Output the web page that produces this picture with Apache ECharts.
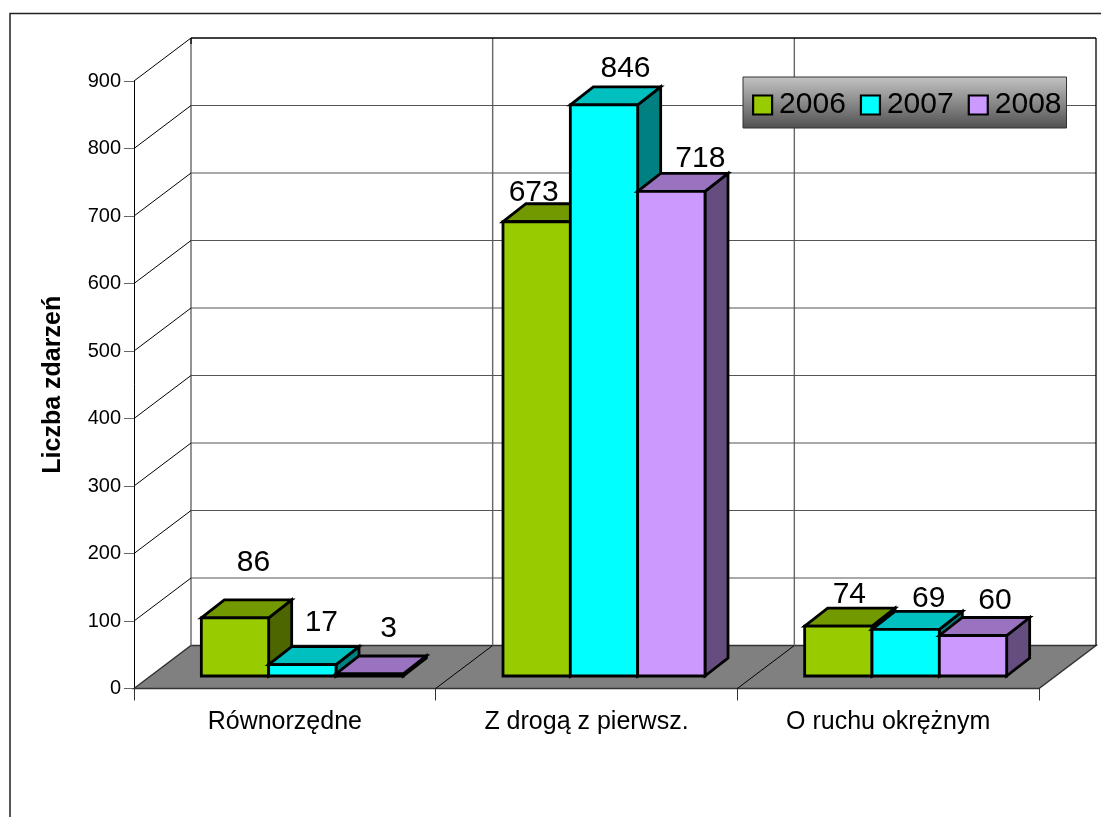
<!DOCTYPE html>
<html><head><meta charset="utf-8">
<style>html,body{margin:0;padding:0;background:#fff}#c{width:1101px;height:817px}</style>
<script src="https://cdn.jsdelivr.net/npm/echarts@6/dist/echarts.min.js"></script>
</head><body><div id="c"></div>
<script>
const categories = ['Równorzędne', 'Z drogą z pierwsz.', 'O ruchu okrężnym'];
const seriesNames = ['2006', '2007', '2008'];
const values2006 = [86, 673, 74];
const values2007 = [17, 846, 69];
const values2008 = [3, 718, 60];
const valueTicks = [0, 100, 200, 300, 400, 500, 600, 700, 800, 900];

// styling and 3D projection constants
const FONT = '"Liberation Sans", Arial, sans-serif';
const DEPTH = [57, -43];            // full floor depth
const BAR_DEPTH = [23, -18];        // depth of a bar
const BAR_INSET = [17.5, -12.5];    // offset of bars' front from the floor's front edge
const BAR_FRAC = 0.2232;            // bar width as fraction of a category band
const palettes = [
  {front: '#99CC00', top: '#739900', side: '#4D6600'},
  {front: '#00FFFF', top: '#00BFBF', side: '#008080'},
  {front: '#CC99FF', top: '#9973BF', side: '#664D80'}
];
// manual placement of each value label relative to the top of the bar's front face [series][category]
const labelNudges = [
  [[18.5, -55], [-3, -29], [11, -31]],
  [[19, -42], [21.5, -36], [23, -31]],
  [[19, -45], [29, -33], [22, -35]]
];

function renderWall(params, api) {
  const v = api.value(0);
  const band = api.size([1, 0])[0];
  const n = categories.length;
  const p0 = api.coord([0, v]);
  const x0 = p0[0] - band / 2, y = p0[1];
  const bx = x0 + DEPTH[0], by = y + DEPTH[1];
  const isTop = v === valueTicks[valueTicks.length - 1];
  const children = [];
  const line = (a, b, c, color, w) => children.push({type: 'line',
    shape: {x1: a, y1: b, x2: c[0], y2: c[1]}, style: {stroke: color, lineWidth: w}});
  if (v === 0) {
    children.push({type: 'polygon', shape: {points: [[x0, y], [bx, by], [bx + band * n, by], [x0 + band * n, y]]},
      style: {fill: '#808080', stroke: '#333333', lineWidth: 1.5}});
    for (let i = 1; i < n; i++) line(x0 + band * i, y, [bx + band * i, by], '#000', 1);
    const topY = api.coord([0, valueTicks[valueTicks.length - 1]])[1] + DEPTH[1];
    for (let i = 0; i < n; i++) line(bx + band * i, by, [bx + band * i, topY], '#666666', 1.4);
  } else {
    line(bx, by, [bx + band * n, by], isTop ? '#000' : '#555555', isTop ? 1.3 : 1.2);
    line(x0, y, [bx, by], '#000', 1);
  }
  if (isTop) {
    line(bx + band * n, by, [bx + band * n, api.coord([0, 0])[1] + DEPTH[1]], '#000', 1.3);
    line(bx, by, [bx, by + 6], '#000', 1.3);
  }
  return {type: 'group', children};
}

function makeBarRenderer(seriesIndex) {
  const pal = palettes[seriesIndex];
  return function (params, api) {
    const cat = api.value(0), val = api.value(1);
    const band = api.size([1, 0])[0];
    const w = band * BAR_FRAC;
    const c = api.coord([cat, val]), base = api.coord([cat, 0]);
    const xL = c[0] - 1.5 * w + seriesIndex * w + BAR_INSET[0];
    const yB = base[1] + BAR_INSET[1];
    const yT = c[1] + BAR_INSET[1];
    const xR = xL + w;
    const dx = BAR_DEPTH[0], dy = BAR_DEPTH[1];
    const st = fill => ({fill, stroke: '#000', lineWidth: 2.8, lineJoin: 'miter'});
    const nudge = labelNudges[seriesIndex][cat];
    return {type: 'group', children: [
      {type: 'polygon', shape: {points: [[xR, yB], [xR + dx, yB + dy], [xR + dx, yT + dy], [xR, yT]]}, style: st(pal.side)},
      {type: 'polygon', shape: {points: [[xL, yT], [xL + dx, yT + dy], [xR + dx, yT + dy], [xR, yT]]}, style: st(pal.top)},
      {type: 'polygon', shape: {points: [[xL, yB], [xL, yT], [xR, yT], [xR, yB]]}, style: st(pal.front)},
      {type: 'text', z2: 100, style: {text: String(val), x: xL + w / 2 + nudge[0], y: yT + nudge[1],
        align: 'center', verticalAlign: 'middle', fontSize: 30, fontFamily: FONT, fill: '#000'}}
    ]};
  };
}

const allValues = [values2006, values2007, values2008];
const chart = echarts.init(document.getElementById('c'), null, {renderer: 'canvas'});
chart.setOption({
  animation: false,
  backgroundColor: '#fff',
  textStyle: {fontFamily: FONT},
  grid: {left: 134, right: 62, top: 81, bottom: 128.5},
  xAxis: {
    type: 'category', data: categories, boundaryGap: true,
    axisLine: {show: false},
    axisTick: {show: true, length: 12, lineStyle: {color: '#333', width: 1}},
    axisLabel: {fontSize: 25, color: '#000', margin: 21, fontFamily: FONT, interval: 0}
  },
  yAxis: {
    type: 'value', min: 0, max: 900, interval: 100,
    name: 'Liczba zdarzeń', nameLocation: 'middle', nameRotate: 90, nameGap: 68,
    nameTextStyle: {fontSize: 25, fontWeight: 'bold', color: '#000', fontFamily: FONT},
    axisLine: {show: true, lineStyle: {color: '#000', width: 1}},
    axisTick: {show: true, length: 10, lineStyle: {color: '#666', width: 1}},
    axisLabel: {fontSize: 20, color: '#000', margin: 13, fontFamily: FONT},
    splitLine: {show: false}
  },
  legend: {
    left: 743, top: 77, orient: 'horizontal',
    selectedMode: false, icon: 'rect', itemWidth: 19, itemHeight: 19, itemGap: 14,
    padding: [13, 5, 8, 9],
    backgroundColor: new echarts.graphic.LinearGradient(0, 0, 0, 1, [
      {offset: 0, color: '#C4C4C4'}, {offset: 1, color: '#505050'}]),
    borderColor: '#333', borderWidth: 1,
    textStyle: {fontSize: 30, color: '#000', fontFamily: FONT, padding: [3, 0, 0, 2]},
    data: seriesNames.map((name, i) => ({name, itemStyle: {color: palettes[i].front, borderColor: '#000', borderWidth: 2.2}}))
  },
  tooltip: {show: false},
  graphic: [{type: 'polyline', silent: true, z: 0,
    shape: {points: [[10, 820], [10, 13.5], [1105, 13.5]]},
    style: {fill: 'none', stroke: '#222', lineWidth: 1.5}}],
  series: [
    {type: 'custom', name: 'wall', silent: true, renderItem: renderWall, data: valueTicks.map(v => [v]),
      encode: {y: 0}, z: 1}
  ].concat(seriesNames.map((name, i) => ({
    type: 'custom', name, silent: true, z: 2,
    renderItem: makeBarRenderer(i),
    itemStyle: {color: palettes[i].front},
    encode: {x: 0, y: 1},
    data: allValues[i].map((v, c) => [c, v])
  })))
});
</script></body></html>
